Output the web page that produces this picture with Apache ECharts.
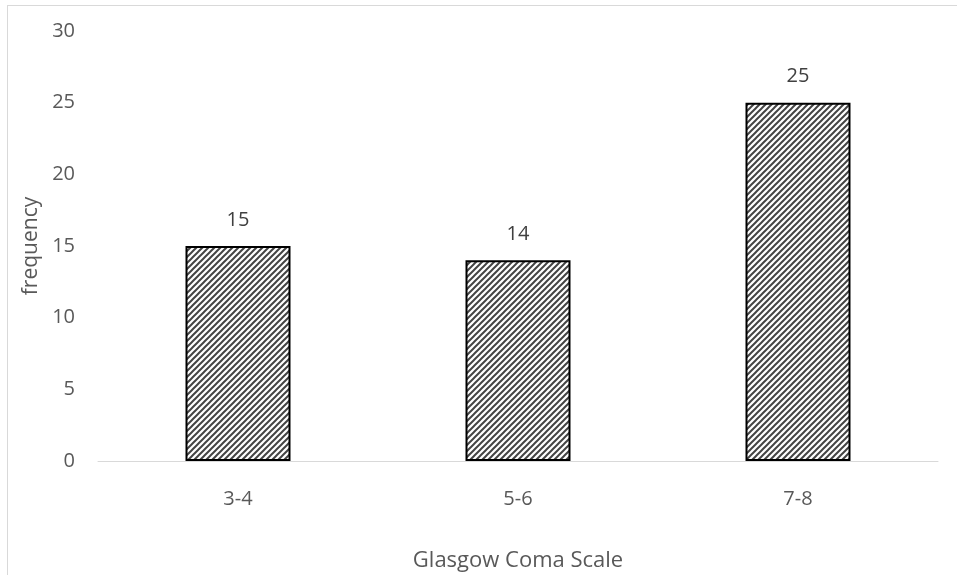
<!DOCTYPE html>
<html><head><meta charset="utf-8">
<script src="https://cdn.jsdelivr.net/npm/echarts@6/dist/echarts.min.js"></script>
<style>
html,body{margin:0;padding:0;background:#fff;overflow:hidden;}
#frame{position:absolute;left:7px;top:5px;width:950px;height:570px;border-top:1px solid #d9d9d9;border-left:1px solid #d9d9d9;}
#c{position:absolute;left:0;top:0;width:957px;height:575px;}
</style></head>
<body>
<div id="frame"></div>
<div id="c"></div>
<script>
const categories = ['3-4', '5-6', '7-8'];
const frequency = [15, 14, 25];
const yTicks = [0, 5, 10, 15, 20, 25, 30];
const xTitle = 'Glasgow Coma Scale';
const yTitle = 'frequency';

function hatch() {
  const s = 6;
  const cv = document.createElement('canvas');
  cv.width = s; cv.height = s;
  const ctx = cv.getContext('2d');
  ctx.fillStyle = '#ffffff';
  ctx.fillRect(0, 0, s, s);
  ctx.strokeStyle = '#444444';
  ctx.lineWidth = 2;
  ctx.beginPath();
  ctx.moveTo(0, s); ctx.lineTo(s, 0);
  ctx.moveTo(-s/2, s/2); ctx.lineTo(s/2, -s/2);
  ctx.moveTo(s/2, s*1.5); ctx.lineTo(s*1.5, s/2);
  ctx.stroke();
  return cv;
}

const chart = echarts.init(document.getElementById('c'), null, {renderer: 'canvas'});
const font = "'Open Sans', sans-serif";
chart.setOption({
  backgroundColor: 'transparent',
  animation: false,
  grid: {left: 98, right: 19, top: 31, bottom: 114, outerBoundsMode: 'none', containLabel: false},
  xAxis: {
    type: 'category',
    data: categories,
    name: xTitle,
    nameLocation: 'middle',
    nameGap: 89,
    nameTextStyle: {fontSize: 22, color: '#595959', fontFamily: font},
    axisLine: {lineStyle: {color: '#d9d9d9', width: 1}},
    axisTick: {show: false},
    axisLabel: {fontSize: 20, color: '#595959', fontFamily: font, margin: 28}
  },
  yAxis: {
    type: 'value',
    min: yTicks[0], max: yTicks[yTicks.length - 1], interval: 5,
    name: yTitle,
    nameLocation: 'middle',
    nameGap: 52,
    nameTextStyle: {fontSize: 21, color: '#595959', fontFamily: font},
    axisLine: {show: false},
    axisTick: {show: false},
    splitLine: {show: false},
    axisLabel: {fontSize: 20, color: '#595959', fontFamily: font, margin: 23}
  },
  series: [{
    type: 'bar',
    data: frequency,
    barWidth: '37.5%',
    itemStyle: {
      color: {image: hatch(), repeat: 'repeat'},
      borderColor: '#000',
      borderWidth: 2
    },
    label: {show: true, position: 'top', distance: 16, fontSize: 20, color: '#404040', fontFamily: font}
  }]
});
</script>
</body></html>
